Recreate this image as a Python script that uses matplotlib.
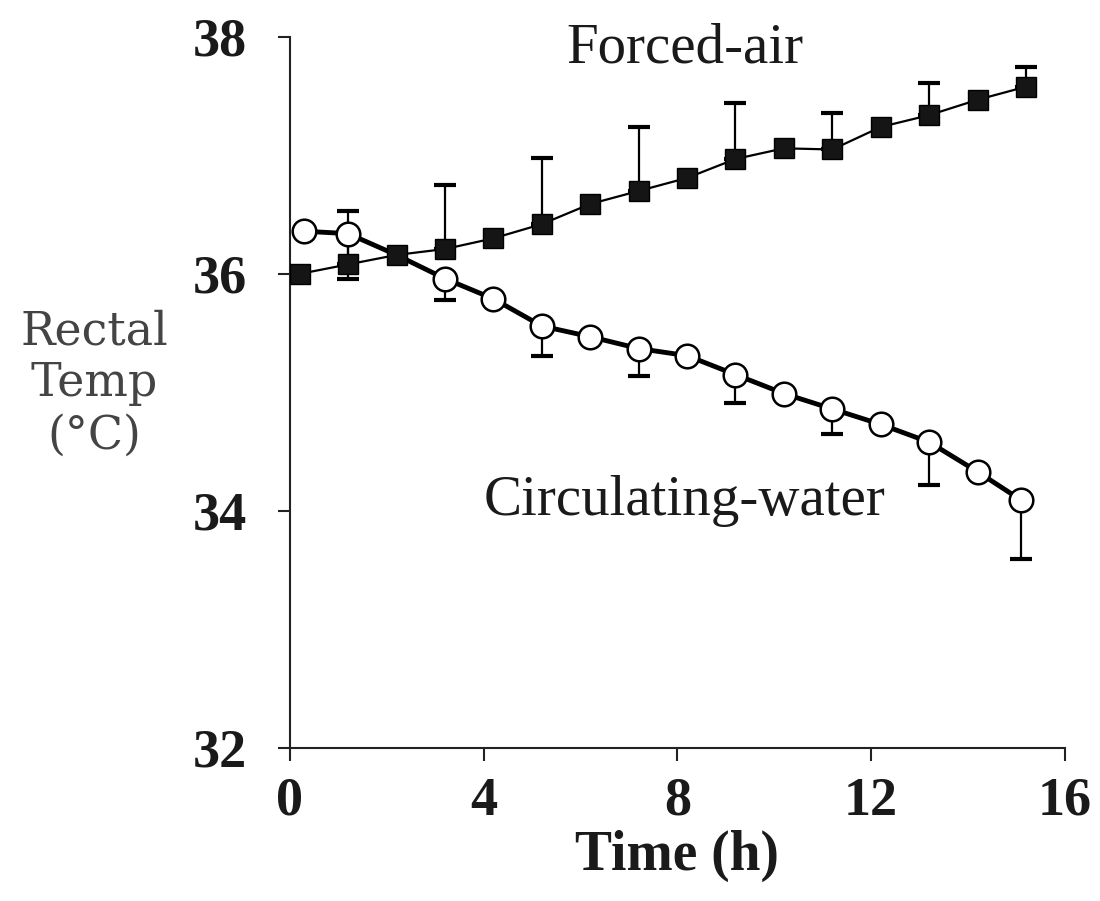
import numpy as np
import matplotlib
matplotlib.use("Agg")
import matplotlib.pyplot as plt

# forced-air warming (filled squares)
air_time = [0.2, 1.2, 2.2, 3.2, 4.2, 5.2, 6.2, 7.2, 8.2, 9.2, 10.2, 11.2, 12.2, 13.2, 14.2, 15.2]
air_temp = [36.00, 36.08, 36.16, 36.21, 36.30, 36.42, 36.59, 36.70, 36.81, 36.97,
            37.06, 37.05, 37.24, 37.34, 37.47, 37.58]
air_err = [0, 0.45, 0, 0.54, 0, 0.56, 0, 0.54, 0, 0.47, 0, 0.31, 0, 0.27, 0, 0.17]

# circulating-water warming (open circles)
water_time = [0.3, 1.2, 2.2, 3.2, 4.2, 5.2, 6.2, 7.2, 8.2, 9.2, 10.2, 11.2, 12.2, 13.2, 14.2, 15.1]
water_temp = [36.36, 36.34, 36.16, 35.96, 35.79, 35.56, 35.47, 35.37, 35.31, 35.15,
              34.99, 34.86, 34.73, 34.58, 34.33, 34.09]
water_err = [0, 0.38, 0, 0.18, 0, 0.25, 0, 0.23, 0, 0.24, 0, 0.21, 0, 0.36, 0, 0.50]

x_ticks = [0, 4, 8, 12, 16]
y_ticks = [32, 34, 36, 38]

serif = ["Liberation Serif", "DejaVu Serif"]

fig = plt.figure(figsize=(11, 9.01), dpi=100)
ax = fig.add_axes([0.2636, 0.170, 0.7044, 0.789])


def one_sided(ax, t, v, e, sign):
    t = np.asarray(t)
    v = np.asarray(v)
    e = np.asarray(e)
    m = e > 0
    if sign > 0:
        yerr = [np.zeros(m.sum()), e[m]]
    else:
        yerr = [e[m], np.zeros(m.sum())]
    ax.errorbar(t[m], v[m], yerr=yerr, fmt="none", ecolor="black",
                elinewidth=1.6, capsize=8, capthick=3, zorder=1)


one_sided(ax, water_time, water_temp, water_err, -1)
one_sided(ax, air_time, air_temp, air_err, +1)

# the circle at 2.2 h sits under the square in the original, so skip its marker
water_marks = [i for i in range(len(water_time)) if i != 2]
ax.plot(water_time, water_temp, color="black", lw=3.5, marker="o", ms=17,
        mfc="white", mec="black", mew=1.8, markevery=water_marks, zorder=2)
ax.plot(air_time, air_temp, color="black", lw=1.6, marker="s", ms=14,
        mfc="#151515", mec="black", mew=1, zorder=3)

ax.text(8.15, 37.9, "Forced-air", ha="center", va="center",
        fontsize=41, family=serif, color="#1a1a1a")
ax.text(8.15, 34.08, "Circulating-water", ha="center", va="center",
        fontsize=41, family=serif, color="#1a1a1a")

ax.set_xlim(0, 16)
ax.set_ylim(32, 38)
ax.set_xticks(x_ticks)
ax.set_yticks(y_ticks)
for s in ["top", "right"]:
    ax.spines[s].set_visible(False)
for s in ["left", "bottom"]:
    ax.spines[s].set_linewidth(1.5)
    ax.spines[s].set_color("#222222")
ax.tick_params(direction="out", length=9, width=1.5, color="#222222",
               labelsize=39)
ax.tick_params(axis="y", pad=22)
ax.tick_params(axis="x", pad=12)
for lbl in ax.get_xticklabels() + ax.get_yticklabels():
    lbl.set_family(serif)
    lbl.set_fontweight("bold")
    lbl.set_color("#1a1a1a")

ax.set_xlabel("Time (h)", fontsize=40, family=serif, fontweight="bold",
              color="#1a1a1a", labelpad=2)
fig.text(0.086, 0.574, "Rectal\nTemp\n(°C)", ha="center", va="center",
         fontsize=33, family=["DejaVu Serif"], color="#444444",
         linespacing=1.2)

fig.savefig("out.png", dpi=100, facecolor="white")
